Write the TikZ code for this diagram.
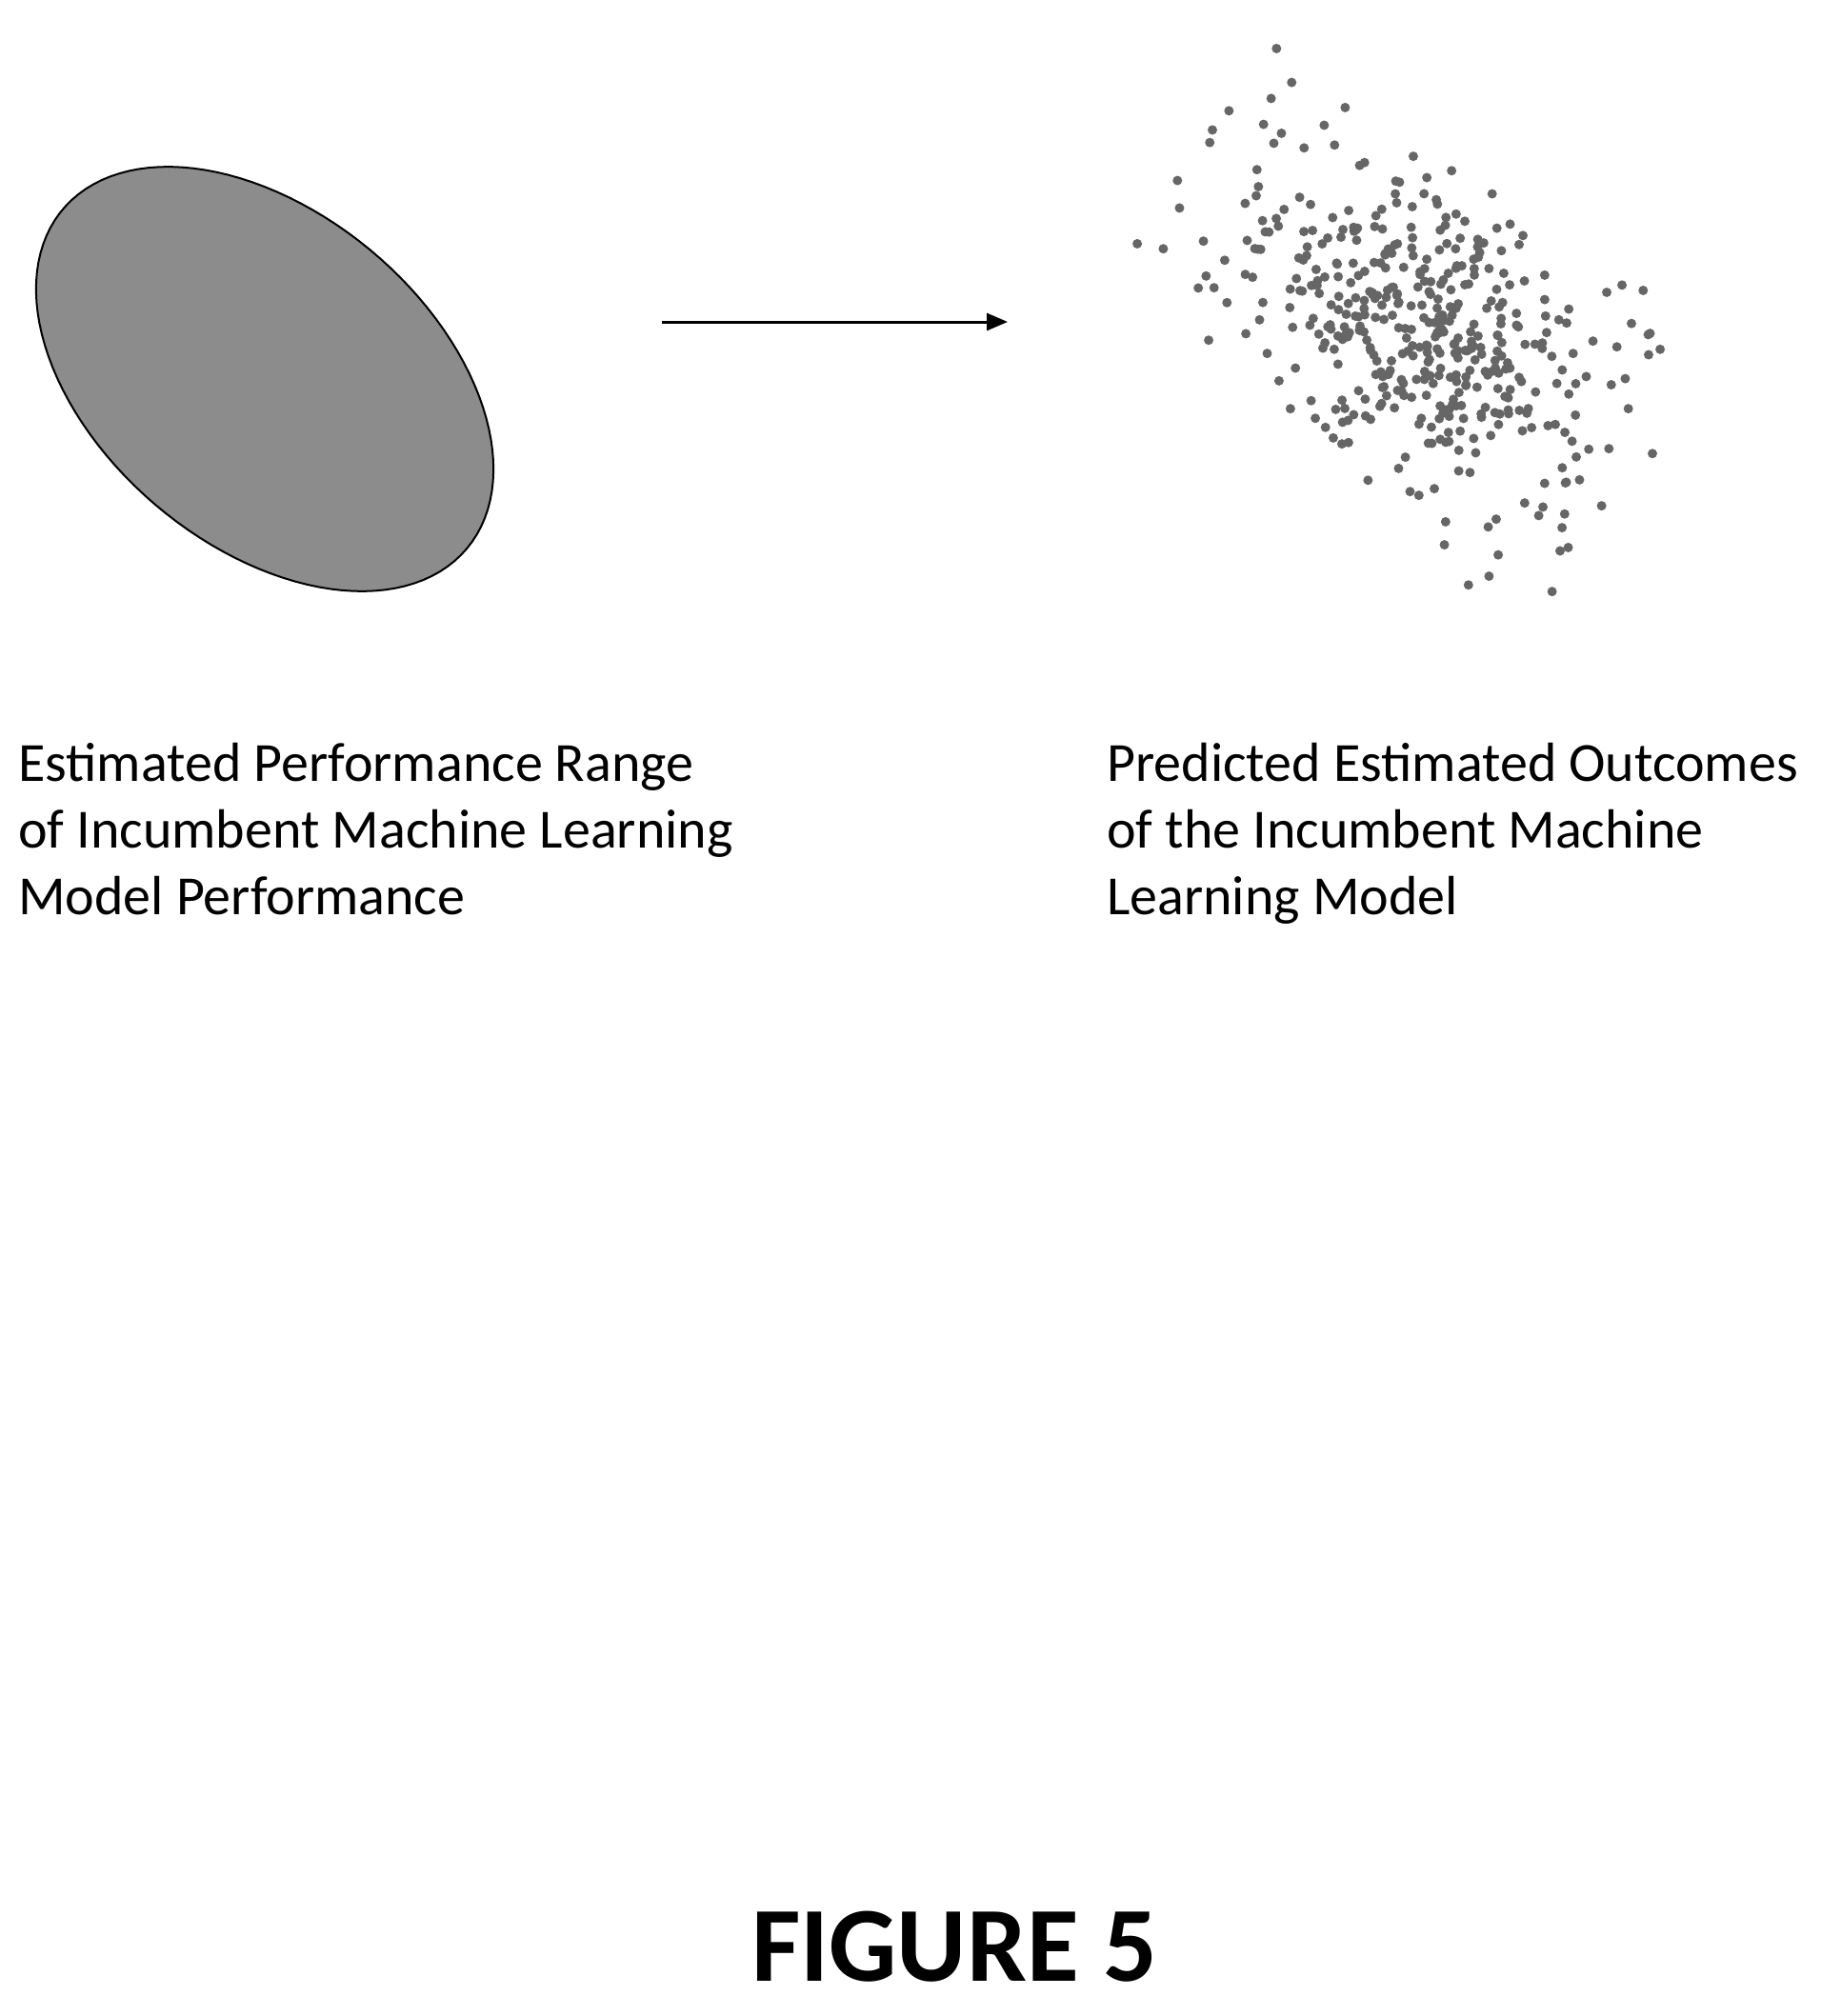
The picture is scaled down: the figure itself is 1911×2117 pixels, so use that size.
\documentclass[tikz,border=0pt]{standalone}
\usepackage{fontspec}
\setmainfont{Carlito}
\usetikzlibrary{positioning,arrows.meta}
\begin{document}
\begin{tikzpicture}[
	%	style def
    x=1pt, y=-1pt,
    important line/.style={line width=3pt},
    caption text/.style={anchor=north west, align=left, inner sep=0pt,
      font=\fontsize{58}{70}\selectfont},
    dot/.style={fill=black!60}
    ]
    \useasboundingbox (0,0) rectangle (1911,2117);

	% region of performance
	\draw[fill=black!45, line width=2pt] plot[domain=0:360,samples=120]
	  ({278+277*cos(\x)*cos(40)-175*sin(\x)*sin(40)},{398+277*cos(\x)*sin(40)+175*sin(\x)*cos(40)}) -- cycle;

	% arrow between both
	\coordinate (from) at (695,338);
	\coordinate (to) at (1058,338);
	\draw[important line, -{Triangle[length=22pt,width=18pt]}] (from) -- (to);

	% scattered outcomes
	\pgfmathsetseed{5}
	\foreach \i in {1,...,460}{
	  \pgfmathsetmacro{\u}{118*(rand+rand+rand)}
	  \pgfmathsetmacro{\v}{72*(rand+rand+rand)}
	  \fill[dot] ({1499+\u*cos(40)-\v*sin(40)},{344+\u*sin(40)+\v*cos(40)}) circle (5);
	}

	% captions
	\node[caption text] (left) at (19,780) {Estimated Performance Range\\of Incumbent Machine Learning\\Model Performance};
	\node[caption text] (right) at (1162,780) {Predicted Estimated Outcomes\\of the Incumbent Machine\\Learning Model};
	\node[font=\fontsize{112}{130}\selectfont\bfseries, anchor=base] (fig) at (1002,2080) {FIGURE 5};
\end{tikzpicture}
\end{document}
